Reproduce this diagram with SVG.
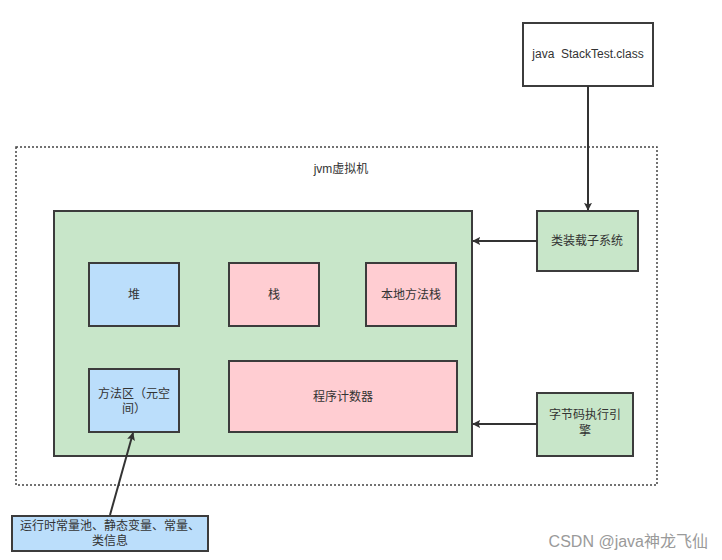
<svg xmlns="http://www.w3.org/2000/svg" width="722" height="560" viewBox="0 0 722 560">
<style>
.n{stroke:#3c3c3c;stroke-width:2}
.g{fill:#c8e6c9}
.b{fill:#bbdefb}
.p{fill:#ffcdd2}
.w{fill:#ffffff}
text{font-family:"Liberation Sans","Noto Sans CJK SC",sans-serif;font-size:12px;fill:#333;text-anchor:middle}
.c{stroke:#333;stroke-width:2;fill:none;marker-end:url(#ah)}
</style>
<defs>
<marker id="ah" viewBox="0 0 10 10" refX="9" refY="5" markerWidth="8" markerHeight="8" orient="auto" markerUnits="userSpaceOnUse">
<path d="M0,0 L10,5 L0,10 L2,5 z" fill="#333"/>
</marker>
</defs>
<rect width="722" height="560" fill="#fff"/>
<g id="jvm">
<rect x="16" y="147" width="641" height="338" fill="none" stroke="#444" stroke-width="1.5" stroke-dasharray="2,2"/>
<text x="341" y="173">jvm虚拟机</text>
</g>
<g id="runtime">
<rect class="n g" x="54" y="211" width="418" height="245"/>
</g>
<g id="class">
<rect class="n w" x="523" y="23" width="130" height="63"/>
<text x="588" y="58" xml:space="preserve" style="white-space:pre">java  StackTest.class</text>
</g>
<g id="heap">
<rect class="n b" x="89" y="263" width="90" height="63"/>
<text x="134" y="299">堆</text>
</g>
<g id="stack">
<rect class="n p" x="229" y="263" width="90" height="63"/>
<text x="274" y="299">栈</text>
</g>
<g id="native">
<rect class="n p" x="366" y="263" width="90" height="63"/>
<text x="411" y="299">本地方法栈</text>
</g>
<g id="method">
<rect class="n b" x="89" y="369" width="90" height="63"/>
<text x="134" y="398">方法区（元空</text>
<text x="134" y="413">间）</text>
</g>
<g id="pc">
<rect class="n p" x="229" y="361" width="228" height="71"/>
<text x="343" y="401">程序计数器</text>
</g>
<g id="loader">
<rect class="n g" x="537" y="211" width="101" height="60"/>
<text x="587" y="245">类装载子系统</text>
</g>
<g id="engine">
<rect class="n g" x="537" y="393" width="96" height="63"/>
<text x="585" y="419">字节码执行引</text>
<text x="585" y="435">擎</text>
</g>
<g id="info">
<rect class="n b" x="12" y="516" width="196" height="35"/>
<text x="110" y="530">运行时常量池、静态变量、常量、</text>
<text x="110" y="545">类信息</text>
</g>
<g id="connectors">
<path class="c" d="M588,86 L588,210"/>
<path class="c" d="M537,241 L473,241"/>
<path class="c" d="M537,424 L473,424"/>
<path class="c" d="M110,515 L133,433"/>
</g>
<text x="708" y="547" style="font-size:16px;fill:#9a9a9a;text-anchor:end">CSDN @java神龙飞仙</text>
</svg>
